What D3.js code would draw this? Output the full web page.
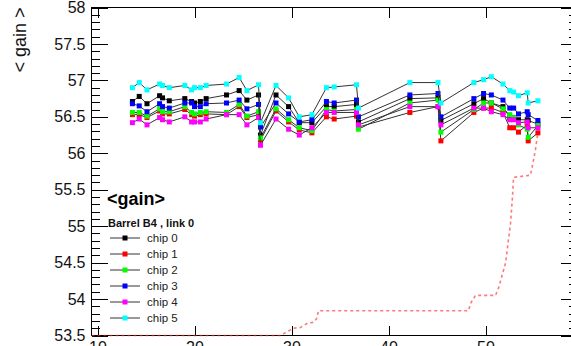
<!DOCTYPE html>
<html>
<head>
<meta charset="utf-8">
<script src="https://cdn.jsdelivr.net/npm/d3@7"></script>
<style>
  body { margin: 0; background: #fff; }
  text { font-family: "Liberation Sans", Arial, Helvetica, sans-serif; }
</style>
</head>
<body>
<svg id="chart" width="571" height="346"></svg>
<script>
// -- data -- //
// measurement days (run day number)
const days = [13.6, 14.3, 15.1, 16.4, 16.7, 17.4, 19.0, 19.7, 20.0, 20.6, 21.2, 23.3, 24.6, 25.4, 26.6, 26.8,
  28.4, 29.7, 30.8, 32.1, 33.6, 34.4, 36.7, 36.9, 42.2, 45.1, 45.4, 48.8, 49.8, 50.6, 51.8, 52.5, 52.9,
  53.4, 54.3, 54.4, 55.4];

const chip0 = [56.71, 56.78, 56.68, 56.79, 56.76, 56.72, 56.75, 56.71, 56.69, 56.71, 56.75, 56.80, 56.86, 56.73, 56.80, 56.25,
  56.80, 56.64, 56.42, 56.42, 56.64, 56.64, 56.67, 56.43, 56.75, 56.76, 56.45, 56.68, 56.75, 56.69, 56.64, 56.49, 56.49,
  56.46, 56.46, 56.45, 56.40];
const chip1 = [56.53, 56.53, 56.49, 56.58, 56.54, 56.54, 56.60, 56.53, 56.51, 56.53, 56.54, 56.53, 56.64, 56.49, 56.53, 56.18,
  56.58, 56.43, 56.32, 56.28, 56.50, 56.47, 56.51, 56.36, 56.56, 56.64, 56.17, 56.56, 56.62, 56.62, 56.56, 56.35, 56.35,
  56.29, 56.39, 56.17, 56.28];
const chip2 = [56.56, 56.56, 56.51, 56.61, 56.57, 56.57, 56.64, 56.56, 56.54, 56.56, 56.57, 56.56, 56.67, 56.51, 56.57, 56.21,
  56.61, 56.46, 56.35, 56.31, 56.60, 56.58, 56.60, 56.33, 56.69, 56.73, 56.29, 56.60, 56.69, 56.69, 56.61, 56.53, 56.49,
  56.39, 56.33, 56.22, 56.38];
const chip3 = [56.68, 56.65, 56.57, 56.68, 56.64, 56.62, 56.69, 56.69, 56.64, 56.64, 56.68, 56.69, 56.73, 56.61, 56.67, 56.36,
  56.69, 56.54, 56.43, 56.46, 56.71, 56.69, 56.73, 56.50, 56.80, 56.82, 56.50, 56.75, 56.82, 56.80, 56.73, 56.62, 56.62,
  56.54, 56.57, 56.53, 56.45];
const chip4 = [56.42, 56.47, 56.39, 56.49, 56.46, 56.43, 56.50, 56.43, 56.43, 56.43, 56.47, 56.53, 56.53, 56.39, 56.49, 56.11,
  56.47, 56.33, 56.25, 56.35, 56.56, 56.56, 56.56, 56.39, 56.64, 56.64, 56.39, 56.62, 56.62, 56.57, 56.53, 56.46, 56.46,
  56.42, 56.43, 56.35, 56.35];
const chip5 = [56.90, 56.97, 56.87, 56.95, 56.93, 56.90, 56.93, 56.87, 56.90, 56.90, 56.93, 56.95, 57.04, 56.86, 56.94, 56.42,
  56.93, 56.76, 56.50, 56.53, 56.90, 56.91, 56.94, 56.62, 56.97, 56.97, 56.69, 56.97, 57.01, 57.05, 56.95, 56.86, 56.84,
  56.79, 56.83, 56.69, 56.72];

const chipNames = ['chip 0', 'chip 1', 'chip 2', 'chip 3', 'chip 4', 'chip 5'];
const chipColors = ['#000000', '#ff0000', '#00ff00', '#0000ff', '#ff00ff', '#00ffff'];

// red dashed curve (rescaled to the gain axis)
const doseDays = [9.38, 28.87, 29.38, 30.21, 30.93, 31.65, 32.27, 32.58, 32.78, 48.25, 48.45, 48.97, 51.03, 51.34,
  52.06, 52.58, 52.78, 52.89, 54.64, 54.85, 55.15, 55.36];
const doseVals = [53.50, 53.50, 53.54, 53.60, 53.61, 53.67, 53.68, 53.73, 53.84, 53.84, 53.94, 54.05, 54.05, 54.15,
  54.49, 55.04, 55.40, 55.67, 55.70, 55.84, 56.05, 56.25];

const yTicks = [53.5, 54, 54.5, 55, 55.5, 56, 56.5, 57, 57.5, 58];
const xTicks = [10, 20, 30, 40, 50];
const xTickLabels = ['10', '20', '30', '40', '50'];

// -- layout -- //
const svg = d3.select('#chart');
const plotLeft = 91.5, plotRight = 576.5, plotTop = 7.5, plotBottom = 335.5;

const x = d3.scaleLinear().domain([9.38, 59.38]).range([plotLeft, plotRight]);
const y = d3.scaleLinear().domain([53.5, 58]).range([plotBottom, plotTop]);

const minorY = d3.range(535, 581).map(v => v / 10).filter(v => Math.round(v * 10) % 5 !== 0);

// -- axes -- //
let axes = svg.append('g').attr('class', 'axes').attr('shape-rendering', 'crispEdges');

axes.append('g').attr('transform', `translate(${plotLeft},0)`)
  .call(d3.axisLeft(y).tickValues(yTicks).tickSize(-16).tickPadding(6).tickFormat(d3.format('~g')));
axes.append('g').attr('transform', `translate(${plotLeft},0)`)
  .call(d3.axisLeft(y).tickValues(minorY).tickSize(-8).tickFormat(''));
axes.append('g').attr('transform', `translate(${plotRight},0)`)
  .call(d3.axisRight(y).tickValues(yTicks).tickSize(-16).tickFormat(''));
axes.append('g').attr('transform', `translate(${plotRight},0)`)
  .call(d3.axisRight(y).tickValues(minorY).tickSize(-8).tickFormat(''));
axes.append('g').attr('transform', `translate(0,${plotBottom})`)
  .call(d3.axisBottom(x).tickValues(xTicks).tickSize(-10).tickPadding(6).tickFormat((d, i) => xTickLabels[i]));
axes.append('g').attr('transform', `translate(0,${plotTop})`)
  .call(d3.axisTop(x).tickValues(xTicks).tickSize(-10).tickFormat(''));

axes.selectAll('.domain').remove();
axes.selectAll('.tick line').attr('stroke', '#000');
axes.selectAll('.tick text').attr('font-size', 16).attr('fill', '#111');

svg.append('rect')
  .attr('x', plotLeft).attr('y', plotTop)
  .attr('width', plotRight - plotLeft).attr('height', plotBottom - plotTop)
  .attr('fill', 'none').attr('stroke', '#000').attr('shape-rendering', 'crispEdges');

svg.append('text')
  .attr('transform', `translate(26,${plotTop}) rotate(-90)`)
  .attr('text-anchor', 'end')
  .attr('font-size', 18)
  .attr('fill', '#111')
  .text('< gain >');

// -- series -- //
const allChips = [chip0, chip1, chip2, chip3, chip4, chip5];
let line = d3.line().x(d => x(d.t)).y(d => y(d.v));

allChips.forEach((vals, c) => {
  let pts = vals.map((v, i) => ({t: days[i], v: v}));
  let g = svg.append('g');
  g.append('path')
    .datum(pts)
    .attr('d', line)
    .attr('fill', 'none')
    .attr('stroke', '#333')
    .attr('stroke-width', 1);
  g.selectAll('.point')
    .data(pts)
    .enter().append('rect')
    .attr('class', 'point')
    .attr('x', d => x(d.t) - 2.5)
    .attr('y', d => y(d.v) - 2.5)
    .attr('width', 5)
    .attr('height', 5)
    .style('fill', chipColors[c]);
});

// -- red dashed curve -- //
svg.append('path')
  .datum(doseDays.map((t, i) => ({t: t, v: doseVals[i]})))
  .attr('d', line)
  .attr('fill', 'none')
  .attr('stroke', '#ff2020')
  .attr('stroke-opacity', 0.6)
  .attr('stroke-width', 1.6)
  .attr('stroke-dasharray', '3,3');

// -- legend -- //
let legend = svg.append('g');
legend.append('text')
  .attr('x', 107).attr('y', 205)
  .attr('font-size', 18).attr('font-weight', 'bold').attr('fill', '#000')
  .text('<gain>');
legend.append('text')
  .attr('x', 108).attr('y', 227)
  .attr('font-size', 11).attr('font-weight', 'bold').attr('fill', '#111')
  .text('Barrel B4 , link 0');

chipNames.forEach((name, i) => {
  let ly = 238 + i * 16;
  legend.append('line')
    .attr('x1', 110).attr('x2', 140).attr('y1', ly).attr('y2', ly)
    .attr('stroke', '#333').attr('stroke-width', 1);
  legend.append('rect')
    .attr('x', 125 - 2.5).attr('y', ly - 2.5)
    .attr('width', 5).attr('height', 5)
    .style('fill', chipColors[i]);
  legend.append('text')
    .attr('x', 147).attr('y', ly + 4)
    .attr('font-size', 11.5).attr('fill', '#222')
    .text(name);
});
</script>
</body>
</html>
